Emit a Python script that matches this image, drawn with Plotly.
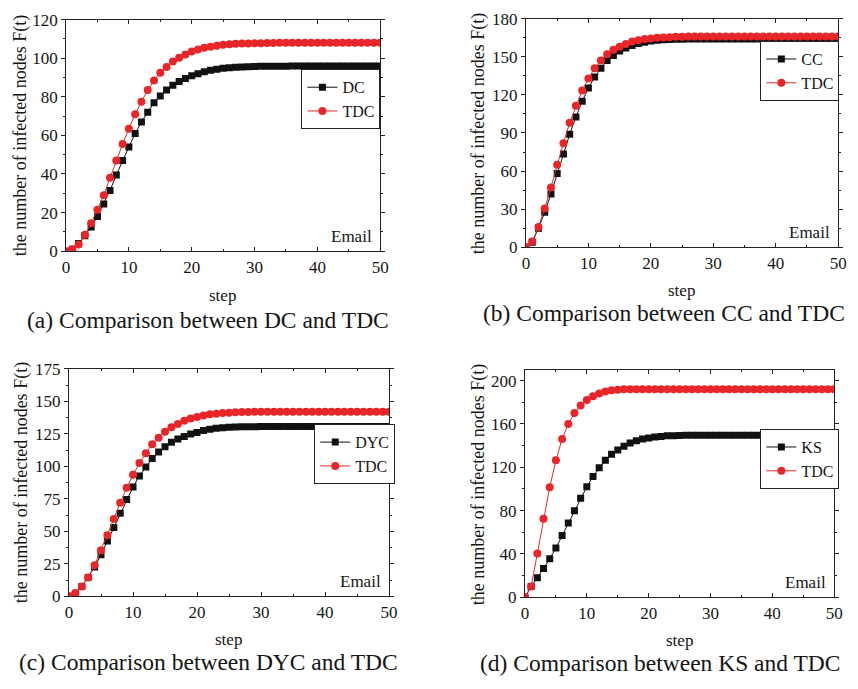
import plotly.graph_objects as go

W, H = 858, 689

steps = list(range(51))

# (a) DC vs TDC
dc = [0, 1, 4, 8, 12.5, 18, 24.5, 31.5, 39.5, 47,
      54, 61, 67, 72, 77, 80.5, 83.5, 86, 88, 89.5,
      91, 92, 93, 93.8, 94.3, 94.8, 95.1, 95.3, 95.5, 95.6,
      95.7, 95.8, 95.8, 95.9, 95.9, 95.9, 96, 96, 96, 96,
      96, 96, 96, 96, 96, 96, 96, 96, 96, 96,
      96]
tdc_a = [0, 1, 3.5, 8.5, 14.5, 21.5, 29, 38, 47, 55.5,
         63.5, 71, 77.5, 83.5, 88.5, 92.5, 95.5, 98.3, 100.3, 102,
         103.5, 104.5, 105.5, 106, 106.5, 107, 107.3, 107.5, 107.6, 107.7,
         107.8, 107.8, 107.9, 107.9, 108, 108, 108, 108, 108, 108,
         108, 108, 108, 108, 108, 108, 108, 108, 108, 108,
         108]

# (b) CC vs TDC
cc = [0, 4, 15, 27.5, 42, 58, 73.5, 89, 102.5, 115,
      125.5, 134, 141, 147, 151, 154.5, 157, 159, 160.5, 161.5,
      162.5, 163, 163.4, 163.6, 163.8, 163.9, 164, 164, 164, 164,
      164, 164, 164, 164, 164, 164, 164, 164, 164, 164,
      164, 164, 164, 164, 164, 164, 164, 164, 164, 164,
      164]
tdc_b = [0, 4.5, 16, 30.5, 47, 65, 82, 98, 111.5, 123.5,
         133, 141, 147, 152, 155.5, 158, 160, 162, 163, 164,
         164.5, 165, 165.3, 165.5, 165.7, 165.8, 165.9, 166, 166, 166,
         166, 166, 166, 166, 166, 166, 166, 166, 166, 166,
         166, 166, 166, 166, 166, 166, 166, 166, 166, 166,
         166]

# (c) DYC vs TDC
dyc = [0, 2, 7.5, 14.5, 22.5, 32, 42.5, 53, 64, 74.5,
       84, 92.5, 99.5, 106, 111, 115, 118.5, 121, 123, 124.8,
       126, 127.5, 128.5, 129.2, 129.7, 130, 130.2, 130.4, 130.5, 130.5,
       130.6, 130.6, 130.6, 130.6, 130.6, 130.6, 130.6, 130.6, 130.6, 130.6,
       130.6, 130.6, 130.6, 130.6, 130.6, 130.6, 130.6, 130.6, 130.6, 130.6,
       130.6]
tdc_c = [0, 2.5, 7.5, 14.5, 24, 35.5, 47, 59.5, 72, 83.5,
         93.5, 102.5, 110, 117, 122, 126.5, 130, 132.5, 135, 136.8,
         138, 139, 140, 140.5, 141, 141.2, 141.5, 141.7, 141.8, 141.9,
         142, 142, 142, 142, 142, 142, 142, 142, 142, 142,
         142, 142, 142, 142, 142, 142, 142, 142, 142, 142,
         142]

# (d) KS vs TDC
ks = [0, 10, 18, 26.5, 35.5, 45.5, 57, 68.5, 80, 91.5,
      102, 111.5, 119.5, 126.5, 132, 136, 139.5, 142.5, 144.5, 146,
      147, 148, 148.5, 149, 149.2, 149.4, 149.5, 149.5, 149.5, 149.5,
      149.5, 149.5, 149.5, 149.5, 149.5, 149.5, 149.5, 149.5, 149.5, 149.5,
      149.5, 149.5, 149.5, 149.5, 149.5, 149.5, 149.5, 149.5, 149.5, 149.5,
      149.5]
tdc_d = [0, 10, 40.5, 72.5, 101.5, 126.5, 146, 160, 170, 177,
         182, 185.5, 188, 190, 191, 191.5, 192, 192, 192, 192,
         192, 192, 192, 192, 192, 192, 192, 192, 192, 192,
         192, 192, 192, 192, 192, 192, 192, 192, 192, 192,
         192, 192, 192, 192, 192, 192, 192, 192, 192, 192,
         192]

baseline_names = ["DC", "CC", "DYC", "KS"]
baseline_series = [dc, cc, dyc, ks]
tdc_series = [tdc_a, tdc_b, tdc_c, tdc_d]
y_max = [120, 180, 175, 210]
y_dtick = [20, 30, 25, 40]
captions = ["(a) Comparison between DC and TDC",
            "(b) Comparison between CC and TDC",
            "(c) Comparison between DYC and TDC",
            "(d) Comparison between KS and TDC"]

# plot boxes in pixels: (left, right, top, bottom)
boxes = [(63, 382, 11, 249), (530, 847, 10, 245),
         (66, 391, 370, 604), (529, 843, 371, 605)]
legend_pos = [(302, 62), (768, 33), (315, 427), (768, 432)]
ytitle_pos = [(17, 130), (482, 128), (18, 487), (482, 489)]
xtitle_pos = [(222, 295), (688, 289), (228, 648), (686, 649)]
caption_pos = [(207, 320), (670, 313), (208, 672), (667, 673)]

FONT = "Liberation Serif, Tinos, Nimbus Roman, DejaVu Serif, serif"
BLACK = "#111111"
RED = "#e8262a"
AX = "#222222"
TXT = "#151515"


def px(x):
    return x / W


def py(y):
    return 1 - y / H


def label(x, y, text, size, angle=0, xanchor="center", yanchor="middle"):
    return dict(x=px(x), y=py(y), xref="paper", yref="paper", text=text,
                showarrow=False, textangle=angle, xanchor=xanchor, yanchor=yanchor,
                font=dict(family=FONT, size=size, color=TXT))


fig = go.Figure()
annotations = []
layout = {}

for i in range(4):
    n = i + 1
    xa = "x" if n == 1 else f"x{n}"
    ya = "y" if n == 1 else f"y{n}"
    lg = "legend" if n == 1 else f"legend{n}"
    fig.add_trace(go.Scatter(
        x=steps, y=baseline_series[i], name=baseline_names[i], mode="lines+markers",
        line=dict(color=BLACK, width=1), marker=dict(symbol="square", size=7, color=BLACK),
        xaxis=xa, yaxis=ya, legend=lg))
    fig.add_trace(go.Scatter(
        x=steps, y=tdc_series[i], name="TDC", mode="lines+markers",
        line=dict(color=RED, width=1), marker=dict(symbol="circle", size=8, color=RED),
        xaxis=xa, yaxis=ya, legend=lg))

    l, r, t, b = boxes[i]
    common = dict(showline=True, linecolor=AX, linewidth=1, mirror="ticks",
                  ticklen=4, tickwidth=1, tickcolor=AX,
                  showgrid=False, zeroline=False,
                  tickfont=dict(family=FONT, size=17, color=TXT))
    xname = "xaxis" if n == 1 else f"xaxis{n}"
    yname = "yaxis" if n == 1 else f"yaxis{n}"
    # step axis ticks point into the box, count axis ticks point outwards
    layout[xname] = dict(common, ticks="inside", domain=[px(l), px(r)], range=[0, 50],
                         dtick=10, anchor=ya,
                         minor=dict(ticks="inside", ticklen=2, dtick=5, tickcolor=AX))
    layout[yname] = dict(common, ticks="outside", domain=[py(b), py(t)],
                         range=[0, y_max[i]], dtick=y_dtick[i], anchor=xa,
                         minor=dict(ticks="outside", ticklen=2, dtick=y_dtick[i] / 2,
                                    tickcolor=AX))
    lx, ly = legend_pos[i]
    layout[lg] = dict(x=px(lx), y=py(ly), xanchor="left", yanchor="top",
                      bgcolor="white", bordercolor=AX, borderwidth=1,
                      font=dict(family=FONT, size=16, color=TXT),
                      itemwidth=30, tracegroupgap=0)

    annotations.append(label(r - 6, b - 3, "Email", 17, xanchor="right",
                             yanchor="bottom"))
    tx, ty = ytitle_pos[i]
    annotations.append(label(tx, ty, "the number of infected nodes F(t)", 18, angle=-90))
    sx, sy = xtitle_pos[i]
    annotations.append(label(sx, sy, "step", 17))
    cx, cy = caption_pos[i]
    annotations.append(label(cx, cy, captions[i], 23.5))

fig.update_layout(width=W, height=H, margin=dict(l=0, r=0, t=0, b=0),
                  paper_bgcolor="white", plot_bgcolor="white",
                  font=dict(family=FONT, color=TXT),
                  showlegend=True, annotations=annotations, **layout)

fig.write_html("out.html")
